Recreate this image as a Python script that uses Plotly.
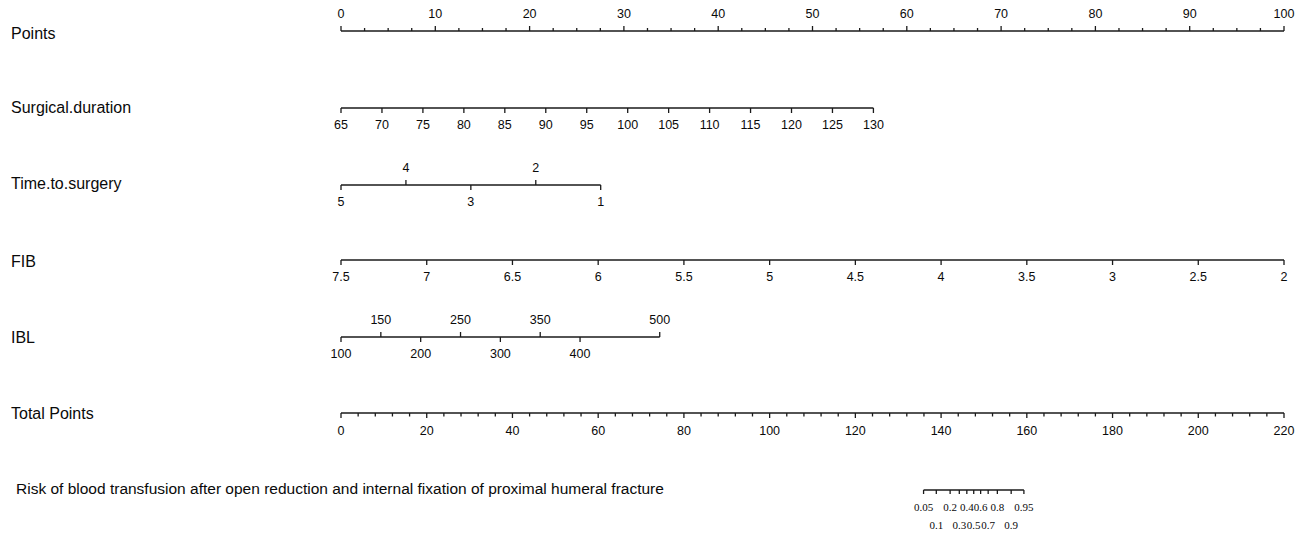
import math
import plotly.graph_objects as go

# ---------------- data ----------------
row_names = ["Points", "Surgical.duration", "Time.to.surgery", "FIB", "IBL", "Total Points"]
risk_title = "Risk of blood transfusion after open reduction and internal fixation of proximal humeral fracture"

points_labels = [0, 10, 20, 30, 40, 50, 60, 70, 80, 90, 100]
points_minor_step = 2.5

surg_values = [65, 70, 75, 80, 85, 90, 95, 100, 105, 110, 115, 120, 125, 130]
surg_ends = (65, 130)
surg_pts = (0.0, 56.46)

time_values_above = [4, 2]
time_values_below = [5, 3, 1]
time_ends = (5, 1)
time_pts = (0.0, 27.54)

fib_values = [7.5, 7, 6.5, 6, 5.5, 5, 4.5, 4, 3.5, 3, 2.5, 2]
fib_ends = (7.5, 2)
fib_pts = (0.0, 100.0)

ibl_values_above = [150, 250, 350, 500]
ibl_values_below = [100, 200, 300, 400]
ibl_ends = (100, 500)
ibl_pts = (0.0, 33.8)

total_labels = [0, 20, 40, 60, 80, 100, 120, 140, 160, 180, 200, 220]
total_minor_step = 4
total_max = 220

risk_above = [0.05, 0.2, 0.4, 0.6, 0.8, 0.95]
risk_below = [0.1, 0.3, 0.5, 0.7, 0.9]
risk_intercept = -37.14   # linear predictor = intercept + slope * total points
risk_slope = 0.2516

# ---------------- layout constants ----------------
OFF = 8                      # page body margin of the html page
W, H = 1304 - OFF, 533 - OFF
X0 = 341.0 - OFF             # pixel of 0 points
PX_PER_PT = 9.43             # pixels per point
ROW_Y = {"Points": 31, "Surgical.duration": 108, "Time.to.surgery": 185,
         "FIB": 260, "IBL": 337, "Total Points": 413, "Risk": 490}
LABEL_Y = {"Points": 33, "Surgical.duration": 107, "Time.to.surgery": 183,
           "FIB": 261, "IBL": 337, "Total Points": 413}
FONT = "Liberation Sans, Arial, sans-serif"
SERIF = "Liberation Serif, Times New Roman, serif"
LINE_COLOR = "#1a1a1a"
TXT = "#0a0a0a"
MAJ, MIN = 5, 3
ABOVE, BELOW = -16, 18

def py(v):
    return v - OFF

def lin(v, ends, pts):
    return pts[0] + (v - ends[0]) * (pts[1] - pts[0]) / (ends[1] - ends[0])

def total_to_x(tp):
    return tp * 100.0 / total_max

def risk_to_total(p):
    return (math.log(p / (1 - p)) - risk_intercept) / risk_slope

fig = go.Figure()

def axis_line(x0, x1, y):
    fig.add_trace(go.Scatter(x=[x0, x1], y=[y, y], mode="lines",
                             line=dict(color=LINE_COLOR, width=1.3),
                             hoverinfo="skip", showlegend=False))

def ticks(xs, y, length):
    tx, ty = [], []
    for x in xs:
        tx += [x, x, None]
        ty += [y, y + length, None]
    fig.add_trace(go.Scatter(x=tx, y=ty, mode="lines",
                             line=dict(color=LINE_COLOR, width=1.3),
                             hoverinfo="skip", showlegend=False))

def labels(xs, y, texts, size=12.5, family=FONT):
    fig.add_trace(go.Scatter(x=xs, y=[y] * len(xs), mode="text", text=texts,
                             textposition="middle center",
                             textfont=dict(family=family, size=size, color=TXT),
                             hoverinfo="skip", showlegend=False))

def fmt(v):
    return ("%g" % v)

# Points
y = py(ROW_Y["Points"])
axis_line(0, 100, y)
n_minor = int(round(100 / points_minor_step))
minor = [i * points_minor_step for i in range(n_minor + 1)]
ticks([m for m in minor if m not in points_labels], y, -MIN)
ticks(points_labels, y, -MAJ)
labels(points_labels, y + ABOVE, [fmt(v) for v in points_labels])

# Surgical.duration
y = py(ROW_Y["Surgical.duration"])
axis_line(surg_pts[0], surg_pts[1], y)
xs = [lin(v, surg_ends, surg_pts) for v in surg_values]
ticks(xs, y, MAJ)
labels(xs, y + BELOW, [fmt(v) for v in surg_values])

# Time.to.surgery
y = py(ROW_Y["Time.to.surgery"])
axis_line(time_pts[0], time_pts[1], y)
xa = [lin(v, time_ends, time_pts) for v in time_values_above]
xb = [lin(v, time_ends, time_pts) for v in time_values_below]
ticks(xa, y, -MAJ)
ticks(xb, y, MAJ)
labels(xa, y + ABOVE, [fmt(v) for v in time_values_above])
labels(xb, y + BELOW, [fmt(v) for v in time_values_below])

# FIB
y = py(ROW_Y["FIB"])
axis_line(fib_pts[0], fib_pts[1], y)
xs = [lin(v, fib_ends, fib_pts) for v in fib_values]
ticks(xs, y, MAJ)
labels(xs, y + BELOW, [fmt(v) for v in fib_values])

# IBL
y = py(ROW_Y["IBL"])
axis_line(ibl_pts[0], ibl_pts[1], y)
xa = [lin(v, ibl_ends, ibl_pts) for v in ibl_values_above]
xb = [lin(v, ibl_ends, ibl_pts) for v in ibl_values_below]
ticks(xa, y, -MAJ)
ticks(xb, y, MAJ)
labels(xa, y + ABOVE, [fmt(v) for v in ibl_values_above])
labels(xb, y + BELOW, [fmt(v) for v in ibl_values_below])

# Total Points
y = py(ROW_Y["Total Points"])
axis_line(0, total_to_x(total_max), y)
tminor = [i * total_minor_step for i in range(int(total_max / total_minor_step) + 1)]
ticks([total_to_x(m) for m in tminor if m not in total_labels], y, MIN + 0.5)
ticks([total_to_x(v) for v in total_labels], y, MAJ)
labels([total_to_x(v) for v in total_labels], y + BELOW + 1, [fmt(v) for v in total_labels])

# Risk
y = py(ROW_Y["Risk"])
all_risk = sorted(risk_above + risk_below)
rx = [total_to_x(risk_to_total(p)) for p in all_risk]
axis_line(rx[0], rx[-1], y)
ticks(rx, y, 4)
labels([total_to_x(risk_to_total(p)) for p in risk_above], y + 18,
       [fmt(p) for p in risk_above], size=11, family=SERIF)
labels([total_to_x(risk_to_total(p)) for p in risk_below], y + 36,
       [fmt(p) for p in risk_below], size=11, family=SERIF)

# row labels
annotations = []
for name in row_names:
    annotations.append(dict(x=1 / W, xref="paper", y=py(LABEL_Y[name]), yref="y",
                            text=name, showarrow=False, xanchor="left", yanchor="middle",
                            font=dict(family=FONT, size=16, color=TXT)))
annotations.append(dict(x=6 / W, xref="paper", y=py(488), yref="y",
                        text=risk_title, showarrow=False, xanchor="left", yanchor="middle",
                        font=dict(family=FONT, size=15.5, color=TXT)))

fig.update_layout(
    width=W, height=H,
    margin=dict(l=0, r=0, t=0, b=0),
    paper_bgcolor="white", plot_bgcolor="white",
    xaxis=dict(range=[-X0 / PX_PER_PT, (W - X0) / PX_PER_PT], visible=False, fixedrange=True),
    yaxis=dict(range=[H, 0], visible=False, fixedrange=True),
    annotations=annotations,
    showlegend=False,
)

fig.write_html("out.html")
